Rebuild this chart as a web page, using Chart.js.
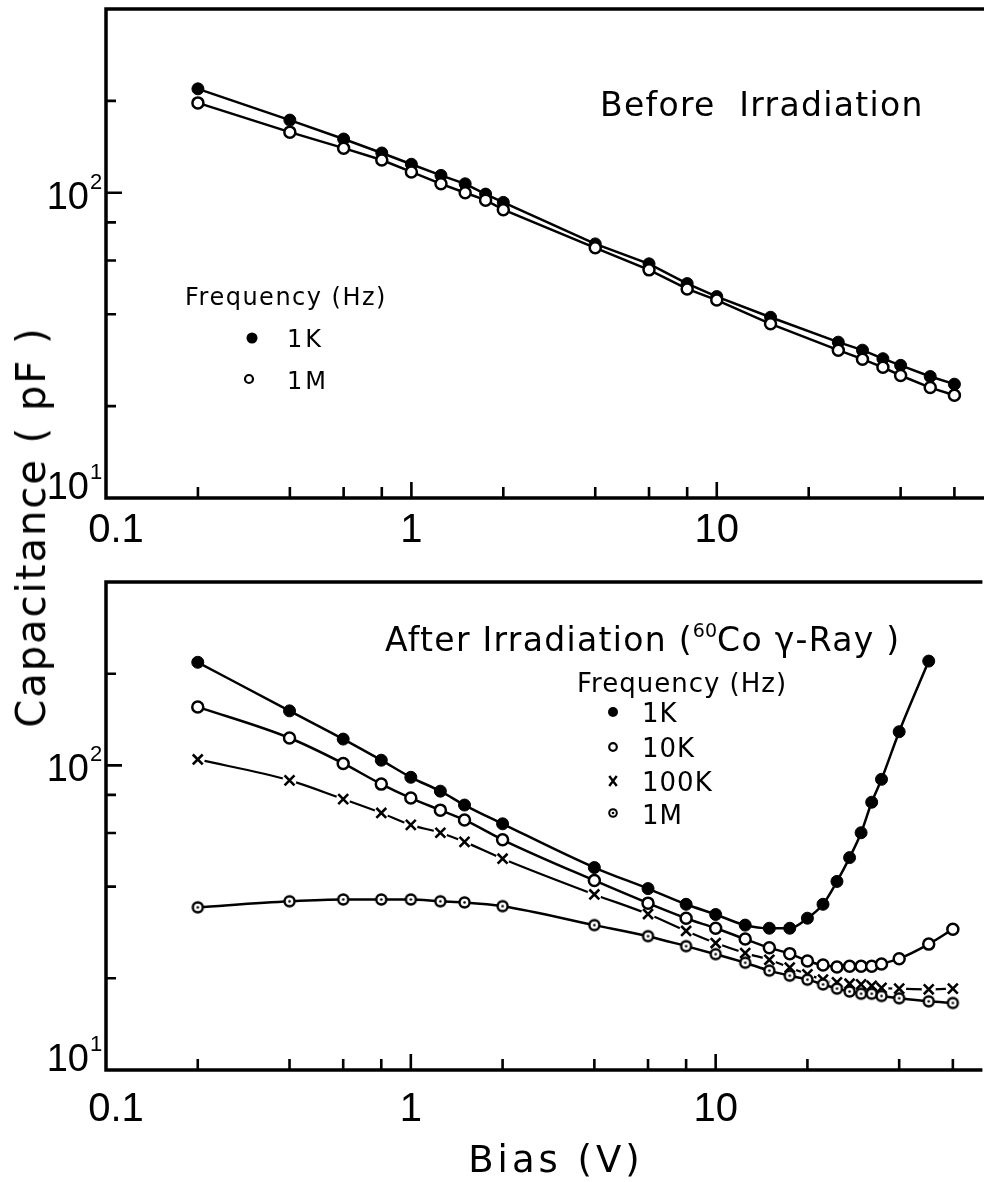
<!DOCTYPE html>
<html>
<head>
<meta charset="utf-8">
<title>Capacitance vs Bias</title>
<script src="https://cdn.jsdelivr.net/npm/chart.js@4.4.1/dist/chart.umd.min.js"></script>
<style>
  html, body { margin: 0; padding: 0; background: #fff; width: 992px; height: 1182px; overflow: hidden; }
  canvas { position: absolute; left: 0; }
  #cvTop { top: 0; }
  #cvBottom { top: 560px; }
  .ttl { position: absolute; white-space: nowrap; color: #000; font-family: "DejaVu Sans", sans-serif; }
  #ytitle { font-size: 40px; letter-spacing: 2px; line-height: 46px; left: 31px; top: 527px;
            transform: translate(-50%, -50%) rotate(-90deg); }
  #xtitle { font-size: 37px; letter-spacing: 4px; line-height: 43px; left: 556px; top: 1138px;
            transform: translateX(-50%); }
</style>
</head>
<body>
<canvas id="cvTop" width="992" height="560"></canvas>
<canvas id="cvBottom" width="992" height="622"></canvas>
<div id="ytitle" class="ttl">Capacitance ( pF )</div>
<div id="xtitle" class="ttl">Bias (V)</div>

<script>
// ---- data: bias voltage (V) and capacitance (pF) ----
const biasBefore = [0.2, 0.4, 0.6, 0.8, 1, 1.25, 1.5, 1.75, 2, 4, 6, 8, 10, 15, 25, 30, 35, 40, 50, 60];
const capBefore1k = [219, 173, 150, 135, 124, 114, 107, 99, 93, 68, 58.5, 50.4, 45.7, 39.1, 32.4, 30.5, 28.6, 27.2, 25.0, 23.6];
const capBefore1M = [197, 158, 140, 128, 117, 107, 100, 94.6, 88, 66, 55.9, 48.4, 44.5, 37.2, 30.5, 28.5, 26.8, 25.2, 23.0, 21.7];

const biasAfter = [0.2, 0.4, 0.6, 0.8, 1, 1.25, 1.5, 2, 4, 6, 8, 10, 12.5, 15, 17.5, 20, 22.5, 25, 27.5, 30, 32.5, 35, 40, 50, 60];
const capAfter1k = [218, 151, 122, 104, 91.4, 82.3, 74.1, 64.3, 46.2, 39.4, 35.0, 32.4, 29.9, 29.2, 29.2, 31.5, 35.0, 41.6, 49.8, 60.1, 75.7, 90, 129, 220];
const capAfter10k = [155.6, 123, 101.5, 86.8, 78.1, 71.3, 66.2, 57.0, 41.9, 35.3, 31.5, 29.2, 26.9, 25.2, 24.1, 22.8, 22.1, 21.8, 21.9, 21.9, 21.9, 22.3, 23.2, 25.9, 29.0];
const capAfter100k = [104.6, 89.3, 77.5, 69.8, 63.8, 60.1, 56.1, 49.4, 37.7, 32.5, 28.6, 26.1, 24.2, 23.0, 21.7, 20.6, 19.8, 19.4, 19.2, 19.1, 18.9, 18.6, 18.5, 18.4, 18.5];
const capAfter1M = [34.2, 35.8, 36.3, 36.3, 36.3, 35.8, 35.5, 34.5, 29.9, 27.5, 25.5, 24.0, 22.5, 21.2, 20.4, 19.8, 19.1, 18.5, 18.1, 17.8, 17.8, 17.5, 17.2, 16.8, 16.6];

// ---- axis ticks and labels ----
const xMajorTicks = [0.1, 1, 10];
const xMinorTicks = [0.2, 0.4, 0.6, 0.8, 2, 4, 6, 8, 20, 40, 60];
const xTickLabels = ['0.1', '1', '10'];
const yMajorTicks = [10, 100];
const yMinorTicks = [20, 40, 60, 80, 200];
const yTickBase = '10';
const yTickExponents = ['1', '2'];

// ---- texts ----
const titleBefore = 'Before  Irradiation';
const titleAfterRuns = [['After Irradiation (', 0], ['60', 1], ['Co γ-Ray )', 0]];
const legendTitle = 'Frequency (Hz)';
const legendBefore = ['1K', '1M'];
const legendAfter = ['1K', '10K', '100K', '1M'];

const pts = (xs, ys) => ys.map((v, i) => ({ x: xs[i], y: v }));

// circle with a centre dot, used for the 1 MHz series after irradiation
function dotCircle(r, lw) {
  const size = Math.ceil(2 * r + lw + 2);
  const c = document.createElement('canvas');
  c.width = size; c.height = size;
  const g = c.getContext('2d');
  g.fillStyle = '#fff'; g.strokeStyle = '#000'; g.lineWidth = lw;
  g.beginPath(); g.arc(size / 2, size / 2, r, 0, Math.PI * 2); g.fill(); g.stroke();
  g.fillStyle = '#000';
  g.beginPath(); g.arc(size / 2, size / 2, 1.3, 0, Math.PI * 2); g.fill();
  return c;
}
const dotStyle = dotCircle(5, 2.4);
const dotStyleSmall = dotCircle(3.8, 2);

function setFont(ctx, size, family, spacing) {
  ctx.font = size + 'px ' + family;
  if ('letterSpacing' in ctx) ctx.letterSpacing = (spacing || 0) + 'px';
}

// axes frame, inward tick marks and tick labels
function framePlugin(cfg) {
  return {
    id: 'frame',
    afterDraw(chart) {
      const { ctx, chartArea: a, scales: { x, y } } = chart;
      ctx.save();
      ctx.strokeStyle = '#000';
      ctx.fillStyle = '#000';
      ctx.lineWidth = 3.5;
      ctx.beginPath();
      ctx.moveTo(a.right, a.top); ctx.lineTo(a.left, a.top);
      ctx.lineTo(a.left, a.bottom); ctx.lineTo(a.right, a.bottom);
      ctx.stroke();

      ctx.lineWidth = 2.6;
      ctx.beginPath();
      xMajorTicks.forEach(v => {
        if (v === x.min) return;
        const px = x.getPixelForValue(v);
        ctx.moveTo(px, a.bottom); ctx.lineTo(px, a.bottom - 16);
      });
      xMinorTicks.forEach(v => {
        const px = x.getPixelForValue(v);
        ctx.moveTo(px, a.bottom); ctx.lineTo(px, a.bottom - 11);
      });
      yMajorTicks.forEach(v => {
        if (v === y.min) return;
        const py = y.getPixelForValue(v);
        ctx.moveTo(a.left, py); ctx.lineTo(a.left + 16, py);
      });
      yMinorTicks.forEach(v => {
        const py = y.getPixelForValue(v);
        ctx.moveTo(a.left, py); ctx.lineTo(a.left + 10, py);
      });
      ctx.stroke();

      // x tick labels
      setFont(ctx, 40, '"Liberation Sans", sans-serif', 0);
      ctx.textAlign = 'center';
      ctx.textBaseline = 'alphabetic';
      xMajorTicks.forEach((v, i) => {
        const px = x.getPixelForValue(v) + (i === 0 ? 10 : 0);
        ctx.fillText(xTickLabels[i], px, a.bottom + cfg.xLabelGap);
      });

      // y tick labels with superscript exponents
      yMajorTicks.forEach((v, i) => {
        const py = y.getPixelForValue(v);
        const base = (v === y.min) ? py + 1 : py + 16;
        setFont(ctx, 38, '"Liberation Sans", sans-serif', 0);
        ctx.textAlign = 'right';
        ctx.fillText(yTickBase, 89, base);
        setFont(ctx, 22, '"Liberation Sans", sans-serif', 0);
        ctx.textAlign = 'left';
        ctx.fillText(yTickExponents[i], 90, base - 20);
      });
      ctx.restore();
    }
  };
}

function drawRuns(ctx, runs, x, y, size, spacing) {
  let cx = x;
  ctx.textAlign = 'left';
  runs.forEach(([t, sup]) => {
    if (sup) {
      setFont(ctx, Math.round(size * 0.58), '"DejaVu Sans", sans-serif', 0);
      ctx.fillText(t, cx, y - size * 0.42);
    } else {
      setFont(ctx, size, '"DejaVu Sans", sans-serif', spacing);
      ctx.fillText(t, cx, y);
    }
    cx += ctx.measureText(t).width;
  });
}

function marker(ctx, kind, x, y, r) {
  ctx.save();
  ctx.strokeStyle = '#000'; ctx.fillStyle = '#000';
  if (kind === 'filled') {
    ctx.beginPath(); ctx.arc(x, y, r, 0, Math.PI * 2); ctx.fill();
  } else if (kind === 'open') {
    ctx.lineWidth = 2.2; ctx.fillStyle = '#fff';
    ctx.beginPath(); ctx.arc(x, y, r, 0, Math.PI * 2); ctx.fill(); ctx.stroke();
  } else if (kind === 'cross') {
    ctx.lineWidth = 2.4;
    ctx.beginPath();
    ctx.moveTo(x - r * 0.75, y - r); ctx.lineTo(x + r * 0.75, y + r);
    ctx.moveTo(x + r * 0.75, y - r); ctx.lineTo(x - r * 0.75, y + r);
    ctx.stroke();
  } else if (kind === 'dot') {
    ctx.drawImage(dotStyleSmall, x - dotStyleSmall.width / 2, y - dotStyleSmall.height / 2);
  }
  ctx.restore();
}

const notesTop = {
  id: 'notesTop',
  afterDraw(chart) {
    const ctx = chart.ctx;
    ctx.save();
    ctx.fillStyle = '#000';
    ctx.textBaseline = 'alphabetic';
    ctx.textAlign = 'left';
    setFont(ctx, 33, '"DejaVu Sans", sans-serif', 1.3);
    ctx.fillText(titleBefore, 600, 116);
    setFont(ctx, 24, '"DejaVu Sans", sans-serif', 1.5);
    ctx.fillText(legendTitle, 185, 305);
    setFont(ctx, 24, '"DejaVu Sans", sans-serif', 3);
    ctx.fillText(legendBefore[0], 287, 347);
    ctx.fillText(legendBefore[1], 287, 389);
    ctx.restore();
    marker(ctx, 'filled', 252, 338, 5.5);
    marker(ctx, 'open', 249, 379, 4);
  }
};

const notesBottom = {
  id: 'notesBottom',
  afterDraw(chart) {
    const ctx = chart.ctx;
    ctx.save();
    ctx.fillStyle = '#000';
    ctx.textBaseline = 'alphabetic';
    drawRuns(ctx, titleAfterRuns, 385, 91, 33, 1.3);
    ctx.textAlign = 'left';
    setFont(ctx, 26, '"DejaVu Sans", sans-serif', 1);
    ctx.fillText(legendTitle, 577, 132);
    const rows = [162, 197, 231, 264];
    setFont(ctx, 26, '"DejaVu Sans", sans-serif', 1);
    legendAfter.forEach((t, i) => ctx.fillText(t, 642, rows[i]));
    ctx.restore();
    marker(ctx, 'filled', 613, 152, 5);
    marker(ctx, 'open', 613, 187, 3.8);
    marker(ctx, 'cross', 613, 221, 5);
    marker(ctx, 'dot', 613, 253, 4);
  }
};

function logScales(yMax) {
  return {
    x: { type: 'logarithmic', min: 0.1, max: 75, display: false },
    y: { type: 'logarithmic', min: 10, max: yMax, display: false }
  };
}

const baseOptions = (padding, yMax) => ({
  responsive: false,
  animation: false,
  devicePixelRatio: 1,
  events: [],
  layout: { padding },
  plugins: { legend: { display: false }, tooltip: { enabled: false } },
  scales: logScales(yMax)
});

const lineBase = { borderColor: '#000', borderWidth: 2.5, fill: false, clip: false };

// ---- upper panel: before irradiation ----
new Chart(document.getElementById('cvTop'), {
  type: 'line',
  data: {
    datasets: [
      Object.assign({}, lineBase, {
        label: '1M', data: pts(biasBefore, capBefore1M), order: 1, tension: 0,
        pointStyle: 'circle', pointRadius: 5.5, pointBackgroundColor: '#fff',
        pointBorderColor: '#000', pointBorderWidth: 2.5
      }),
      Object.assign({}, lineBase, {
        label: '1K', data: pts(biasBefore, capBefore1k), order: 2, tension: 0,
        pointStyle: 'circle', pointRadius: 6, pointBackgroundColor: '#000',
        pointBorderColor: '#000', pointBorderWidth: 1
      })
    ]
  },
  options: baseOptions({ left: 106, top: 9, right: 0, bottom: 62 }, 400),
  plugins: [framePlugin({ xLabelGap: 44 }), notesTop]
});

// ---- lower panel: after irradiation ----
new Chart(document.getElementById('cvBottom'), {
  type: 'line',
  data: {
    datasets: [
      Object.assign({}, lineBase, {
        label: '1K', data: pts(biasAfter, capAfter1k), order: 1,
        cubicInterpolationMode: 'monotone',
        pointStyle: 'circle', pointRadius: 6, pointBackgroundColor: '#000',
        pointBorderColor: '#000', pointBorderWidth: 1
      }),
      Object.assign({}, lineBase, {
        label: '10K', data: pts(biasAfter, capAfter10k), order: 2,
        cubicInterpolationMode: 'monotone',
        pointStyle: 'circle', pointRadius: 5.5, pointBackgroundColor: '#fff',
        pointBorderColor: '#000', pointBorderWidth: 2.5
      }),
      Object.assign({}, lineBase, {
        label: '1M', data: pts(biasAfter, capAfter1M), order: 3,
        cubicInterpolationMode: 'monotone',
        pointStyle: dotStyle, pointRadius: 6
      }),
      {
        label: '100K', data: pts(biasAfter, capAfter100k), order: 4, showLine: false, clip: false,
        pointStyle: 'crossRot', pointRadius: 7, pointBorderColor: '#000', pointBorderWidth: 2.6
      },
      {
        label: '100K gap', data: pts(biasAfter, capAfter100k), order: 5, showLine: false, clip: false,
        pointStyle: 'circle', pointRadius: 7, pointBackgroundColor: '#fff', pointBorderWidth: 0,
        pointBorderColor: '#fff'
      },
      Object.assign({}, lineBase, {
        label: '100K line', data: pts(biasAfter, capAfter100k), order: 6,
        cubicInterpolationMode: 'monotone', borderWidth: 2.2, pointRadius: 0
      })
    ]
  },
  options: baseOptions({ left: 106, top: 22, right: 0, bottom: 112 }, 400),
  plugins: [framePlugin({ xLabelGap: 51 }), notesBottom]
});
</script>
</body>
</html>
